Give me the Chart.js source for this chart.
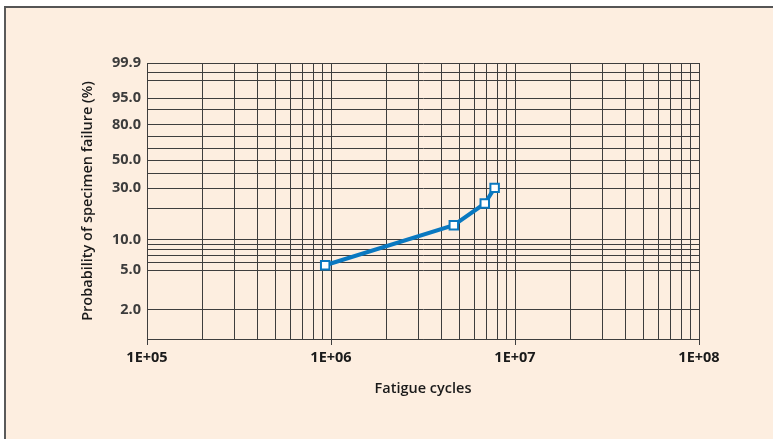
<!DOCTYPE html>
<html>
<head>
<meta charset="utf-8">
<script src="https://cdn.jsdelivr.net/npm/chart.js@4.4.1/dist/chart.umd.min.js"></script>
<style>
  html, body { margin: 0; padding: 0; background: #fff; overflow: hidden; }
  #frame {
    position: absolute; left: 4px; top: 6px; width: 800px; height: 460px;
    background: #fdeee0; border-left: 2px solid #5a5a5a; border-top: 2px solid #555;
  }
  #wrap { position: absolute; left: 0; top: 0; width: 773px; height: 439px; }
</style>
</head>
<body>
<div id="frame"></div>
<div id="wrap"><canvas id="weibull-chart" width="773" height="439"></canvas></div>
<script>
// failure data (cycles, median rank %)
const cycles = [9.3e5, 4.65e6, 6.85e6, 7.75e6];
const failurePct = [5.6, 13.8, 22.0, 30.2];

// grid
const xGrid = [];
for (let e = 5; e < 8; e++) {
    for (let m = 1; m < 10; m++) xGrid.push(m * Math.pow(10, e));
}
xGrid.push(1e8);
const yGrid = [1, 2, 5, 6, 7, 8, 9, 10, 20, 30, 40, 50, 60, 70, 80, 90, 95, 99, 99.6, 99.9];
const yLabels = [2, 5, 10, 30, 50, 80, 95, 99.9];

const FONT = "'Open Sans', 'DejaVu Sans', sans-serif";
const GRID = "#3e3e3e";

function weib(p) {
    return Math.log(-Math.log(1 - p / 100));
}

// Weibull probability axis
class WeibullScale extends Chart.Scale {
    determineDataLimits() {
        this.min = this.options.min;
        this.max = this.options.max;
    }
    buildTicks() {
        return yGrid.map(v => ({ value: v }));
    }
    getLabelForValue(v) {
        return String(v);
    }
    configure() {
        super.configure();
        this._lo = weib(this.min);
        this._hi = weib(this.max);
    }
    getPixelForValue(v) {
        return this.getPixelForDecimal((weib(v) - this._lo) / (this._hi - this._lo));
    }
    getValueForPixel(p) {
        const w = this._lo + this.getDecimalForPixel(p) * (this._hi - this._lo);
        return 100 * (1 - Math.exp(-Math.exp(w)));
    }
}
WeibullScale.id = "weibull";
WeibullScale.defaults = {};
Chart.register(WeibullScale);

const isDecade = v => Math.abs(Math.log10(v) - Math.round(Math.log10(v))) < 1e-9;

const ctx = document.getElementById("weibull-chart").getContext("2d");
new Chart(ctx, {
    type: "line",
    data: {
        datasets: [{
            data: cycles.map((c, i) => ({ x: c, y: failurePct[i] })),
            borderColor: "#0a78c0",
            borderWidth: 4,
            pointStyle: "rect",
            pointRadius: 6,
            pointBorderWidth: 2,
            pointBorderColor: "#0a78c0",
            pointBackgroundColor: "#ffffff",
            fill: false,
            tension: 0
        }]
    },
    options: {
        responsive: false,
        animation: false,
        layout: { padding: { left: 75, top: 63, right: 74, bottom: 0 } },
        plugins: { legend: { display: false }, tooltip: { enabled: false } },
        scales: {
            x: {
                type: "logarithmic",
                min: 1e5,
                max: 1e8,
                afterBuildTicks: s => { s.ticks = xGrid.map(v => ({ value: v })); },
                afterFit: s => { s.height = 100; },
                grid: {
                    color: GRID,
                    lineWidth: 1,
                    tickLength: 6,
                    tickColor: c => (c.tick && isDecade(c.tick.value)) ? GRID : "rgba(0,0,0,0)"
                },
                border: { color: GRID, width: 1 },
                ticks: {
                    autoSkip: false,
                    maxRotation: 0,
                    padding: 4,
                    color: "#1a1a1a",
                    font: { family: FONT, size: 14.5, weight: "bold" },
                    callback: v => isDecade(v) ? "1E+0" + Math.round(Math.log10(v)) : ""
                },
                title: {
                    display: true,
                    text: "Fatigue cycles",
                    color: "#1a1a1a",
                    font: { family: FONT, size: 14.5, weight: 600 },
                    padding: { top: 0, bottom: 41 }
                }
            },
            y: {
                type: "weibull",
                min: 1,
                max: 99.9,
                afterFit: s => { s.width = 72; },
                grid: { color: GRID, lineWidth: 1, drawTicks: false },
                border: { color: GRID, width: 1 },
                ticks: {
                    autoSkip: false,
                    padding: 6,
                    color: "#3c3c3c",
                    font: { family: FONT, size: 14.5, weight: "bold" },
                    callback: v => yLabels.includes(v) ? v.toFixed(1) : ""
                },
                title: {
                    display: true,
                    text: "Probability of specimen failure (%)",
                    color: "#1a1a1a",
                    font: { family: FONT, size: 14.5, weight: 600 },
                    padding: { top: 4, bottom: 0 }
                }
            }
        }
    }
});
</script>
</body>
</html>
